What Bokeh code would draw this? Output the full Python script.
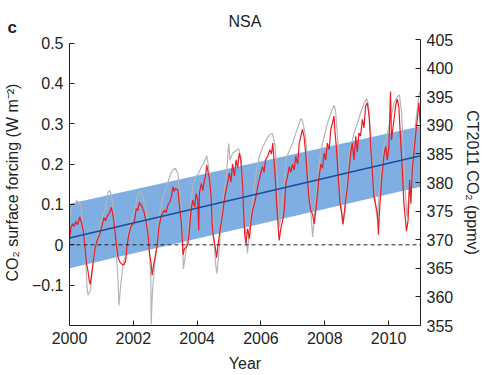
from bokeh.plotting import figure
from bokeh.models import Range1d, LinearAxis, FixedTicker, Span, Title
from bokeh.embed import file_html
from bokeh.resources import INLINE

# ---- data ----
years_ticks = [2000, 2002, 2004, 2006, 2008, 2010]
forcing_ticks = [-0.1, 0.0, 0.1, 0.2, 0.3, 0.4, 0.5]
forcing_tick_labels = ["\u22120.1", "0", "0.1", "0.2", "0.3", "0.4", "0.5"]
co2_ticks = [355, 360, 365, 370, 375, 380, 385, 390, 395, 400, 405]

band_years = [2000.0, 2011.0]
band_lower = [-0.058, 0.144]
band_upper = [0.102, 0.294]
trend_vals = [0.017, 0.221]

red_t = [2000.00, 2000.05, 2000.10, 2000.15, 2000.20, 2000.25, 2000.32, 2000.38, 2000.43, 2000.49,
         2000.53, 2000.58, 2000.62, 2000.65, 2000.69, 2000.74, 2000.79, 2000.86, 2000.95, 2001.03,
         2001.08, 2001.13, 2001.19, 2001.25, 2001.31, 2001.36, 2001.41, 2001.47, 2001.52, 2001.58,
         2001.64, 2001.70, 2001.76, 2001.80, 2001.85, 2001.92, 2001.98, 2002.04, 2002.09, 2002.14,
         2002.19, 2002.28, 2002.35, 2002.41, 2002.46, 2002.51, 2002.56, 2002.59, 2002.64, 2002.70,
         2002.74, 2002.80, 2002.88, 2002.98, 2003.03, 2003.08, 2003.14, 2003.19, 2003.24, 2003.28,
         2003.32, 2003.40, 2003.45, 2003.50, 2003.53, 2003.56, 2003.60, 2003.66, 2003.71, 2003.76,
         2003.81, 2003.86, 2003.92, 2003.97, 2004.02, 2004.05, 2004.07, 2004.13, 2004.18, 2004.23,
         2004.27, 2004.30, 2004.33, 2004.39, 2004.44, 2004.47, 2004.51, 2004.57, 2004.61, 2004.66,
         2004.72, 2004.80, 2004.85, 2004.93, 2005.01, 2005.06, 2005.11, 2005.17, 2005.22, 2005.27,
         2005.32, 2005.37, 2005.43, 2005.46, 2005.49, 2005.53, 2005.58, 2005.64, 2005.69, 2005.74,
         2005.82, 2005.90, 2005.97, 2006.05, 2006.10, 2006.14, 2006.21, 2006.28, 2006.33, 2006.37,
         2006.42, 2006.46, 2006.50, 2006.54, 2006.57, 2006.63, 2006.68, 2006.73, 2006.78, 2006.83,
         2006.89, 2006.94, 2006.99, 2007.04, 2007.09, 2007.15, 2007.20, 2007.25, 2007.30, 2007.35,
         2007.41, 2007.46, 2007.51, 2007.56, 2007.62, 2007.67, 2007.72, 2007.77, 2007.82, 2007.88,
         2007.93, 2007.98, 2008.03, 2008.08, 2008.14, 2008.19, 2008.24, 2008.29, 2008.32, 2008.37,
         2008.43, 2008.48, 2008.53, 2008.57, 2008.64, 2008.71, 2008.76, 2008.81, 2008.86, 2008.92,
         2008.97, 2009.02, 2009.07, 2009.12, 2009.18, 2009.23, 2009.28, 2009.33, 2009.39, 2009.44,
         2009.49, 2009.54, 2009.59, 2009.65, 2009.68, 2009.72, 2009.78, 2009.85, 2009.91, 2009.96,
         2010.01, 2010.06, 2010.09, 2010.17, 2010.22, 2010.27, 2010.32, 2010.37, 2010.43, 2010.48,
         2010.53, 2010.56, 2010.61, 2010.66, 2010.70, 2010.74, 2010.79, 2010.84, 2010.90, 2010.95,
         2010.99]
red_f = [0.015, 0.045, 0.052, 0.046, 0.058, 0.050, 0.069, 0.055, 0.035, -0.010,
         -0.045, -0.065, -0.090, -0.098, -0.075, -0.045, -0.014, 0.011, 0.027, 0.052,
         0.068, 0.060, 0.072, 0.078, 0.093, 0.075, 0.045, 0.000, -0.030, -0.043,
         -0.048, -0.050, -0.040, -0.005, 0.023, 0.045, 0.050, 0.060, 0.090, 0.085,
         0.105, 0.094, 0.078, 0.052, 0.027, -0.023, -0.048, -0.075, -0.048, -0.023,
         -0.006, 0.044, 0.073, 0.086, 0.080, 0.098, 0.105, 0.119, 0.144, 0.132,
         0.140, 0.136, 0.094, 0.060, 0.020, -0.025, -0.010, -0.006, 0.002, 0.040,
         0.086, 0.111, 0.094, 0.127, 0.110, 0.036, 0.127, 0.152, 0.135, 0.161,
         0.175, 0.198, 0.185, 0.161, 0.119, 0.052, 0.019, -0.006, -0.032, 0.003,
         0.036, 0.078, 0.111, 0.144, 0.178, 0.155, 0.200, 0.170, 0.211, 0.190,
         0.227, 0.210, 0.144, 0.078, 0.027, 0.003, 0.040, 0.015, 0.061, 0.086,
         0.110, 0.144, 0.170, 0.194, 0.180, 0.210, 0.219, 0.236, 0.225, 0.252,
         0.200, 0.150, 0.094, 0.044, 0.011, 0.044, 0.060, 0.086, 0.152, 0.169,
         0.194, 0.180, 0.200, 0.185, 0.219, 0.200, 0.252, 0.269, 0.286, 0.269,
         0.219, 0.161, 0.111, 0.086, 0.075, 0.052, 0.086, 0.127, 0.169, 0.200,
         0.190, 0.227, 0.210, 0.252, 0.236, 0.286, 0.302, 0.319, 0.280, 0.236,
         0.161, 0.102, 0.078, 0.052, 0.100, 0.144, 0.186, 0.227, 0.252, 0.210,
         0.269, 0.230, 0.277, 0.270, 0.311, 0.290, 0.344, 0.352, 0.320, 0.244,
         0.186, 0.119, 0.100, 0.078, 0.025, 0.090, 0.161, 0.219, 0.244, 0.210,
         0.244, 0.380, 0.260, 0.311, 0.344, 0.361, 0.344, 0.269, 0.186, 0.102,
         0.061, 0.034, 0.060, 0.161, 0.102, 0.186, 0.227, 0.269, 0.311, 0.352,
         0.300]

grey_t = [2000.00, 2000.06, 2000.12, 2000.17, 2000.22, 2000.27, 2000.33, 2000.38, 2000.43, 2000.48,
          2000.51, 2000.55, 2000.58, 2000.62, 2000.66, 2000.72, 2000.79, 2000.90, 2001.00, 2001.10,
          2001.16, 2001.21, 2001.26, 2001.30, 2001.34, 2001.42, 2001.47, 2001.52, 2001.55, 2001.60,
          2001.68, 2001.78, 2001.83, 2001.94, 2002.04, 2002.12, 2002.20, 2002.30, 2002.39, 2002.46,
          2002.51, 2002.55, 2002.56, 2002.58, 2002.61, 2002.67, 2002.72, 2002.77, 2002.84, 2002.93,
          2003.03, 2003.14, 2003.22, 2003.32, 2003.40, 2003.45, 2003.50, 2003.55, 2003.57, 2003.64,
          2003.71, 2003.78, 2003.86, 2003.95, 2004.05, 2004.13, 2004.23, 2004.30, 2004.36, 2004.44,
          2004.49, 2004.54, 2004.59, 2004.62, 2004.68, 2004.75, 2004.82, 2004.91, 2004.99, 2005.03,
          2005.11, 2005.22, 2005.30, 2005.37, 2005.43, 2005.48, 2005.53, 2005.58, 2005.64, 2005.72,
          2005.79, 2005.86, 2005.95, 2006.05, 2006.16, 2006.26, 2006.36, 2006.44, 2006.50, 2006.54,
          2006.57, 2006.63, 2006.66, 2006.73, 2006.78, 2006.89, 2006.99, 2007.09, 2007.20, 2007.25,
          2007.30, 2007.38, 2007.46, 2007.51, 2007.56, 2007.62, 2007.67, 2007.72, 2007.80, 2007.88,
          2007.98, 2008.08, 2008.19, 2008.29, 2008.34, 2008.40, 2008.47, 2008.53, 2008.57, 2008.64,
          2008.69, 2008.74, 2008.81, 2008.92, 2009.02, 2009.12, 2009.23, 2009.31, 2009.36, 2009.44,
          2009.51, 2009.57, 2009.62, 2009.65, 2009.70, 2009.78, 2009.85, 2009.96, 2010.06, 2010.17,
          2010.27, 2010.34, 2010.41, 2010.48, 2010.53, 2010.58, 2010.63, 2010.72, 2010.79, 2010.86,
          2010.95, 2010.99]
grey_c = [373.4, 375.5, 376.3, 376.0, 376.8, 376.6, 376.2, 375.0, 371.6, 368.5,
          366.4, 361.7, 360.3, 360.8, 361.1, 365.2, 368.7, 371.3, 373.4, 375.1,
          376.5, 378.3, 378.6, 378.0, 376.9, 373.4, 367.6, 362.9, 358.5, 361.7,
          365.8, 367.6, 371.1, 373.4, 375.1, 377.5, 378.6, 377.5, 375.7, 372.2,
          367.6, 362.9, 355.2, 358.5, 361.7, 365.8, 368.1, 371.6, 375.1, 377.5,
          379.2, 381.0, 382.1, 382.5, 381.5, 378.6, 375.1, 368.7, 364.9, 367.6,
          371.1, 375.1, 379.2, 381.0, 381.6, 382.7, 383.6, 384.7, 382.7, 378.6,
          373.4, 368.7, 365.2, 364.1, 367.6, 372.8, 377.5, 381.0, 386.8, 383.9,
          385.1, 385.6, 385.9, 384.5, 380.4, 373.4, 370.5, 367.6, 372.2, 375.7,
          379.2, 382.1, 384.5, 386.2, 387.4, 388.3, 388.6, 386.5, 382.0, 377.0,
          372.2, 374.0, 376.3, 379.8, 383.9, 385.6, 386.8, 388.6, 390.3, 391.2,
          390.8, 388.6, 384.5, 379.8, 375.1, 370.5, 373.5, 377.5, 382.1, 385.6,
          388.0, 390.3, 392.1, 393.5, 392.5, 388.0, 381.0, 375.1, 372.5, 375.1,
          378.0, 383.3, 386.2, 388.6, 390.3, 392.1, 393.8, 394.7, 393.8, 388.6,
          382.1, 377.5, 374.6, 373.5, 377.5, 382.7, 386.2, 388.6, 390.9, 393.8,
          395.0, 395.3, 392.0, 383.9, 377.5, 374.0, 377.5, 382.1, 386.8, 390.9,
          395.3, 396.0]

# ---- styling ----
FONT = "Liberation Sans"
TXT = "#231f20"

# file_html's page has no body margin: the canvas starts at the window's corner
p = figure(width=490, height=375, output_backend="svg", toolbar_location=None,
           x_range=Range1d(2000, 2011), y_range=Range1d(-0.2, 0.509),
           min_border_left=69, min_border_right=70, min_border_top=39, min_border_bottom=50)
p.extra_y_ranges = {"co2": Range1d(355, 405)}
p.outline_line_color = None
p.grid.visible = False
p.background_fill_color = "white"
p.title.text = ""

# titles: "NSA" next to the frame, panel letter "c" pulled down onto the same row
t_nsa = Title(text="NSA", align="center", standoff=19, text_font=FONT,
              text_font_size="16px", text_font_style="normal", text_color=TXT)
t_c = Title(text="\nc", align="left", offset=-62, standoff=-71, text_font=FONT,
            text_font_size="17px", text_font_style="bold", text_color=TXT,
            text_line_height=0.42)
p.add_layout(t_nsa, "above")
p.add_layout(t_c, "above")

p.varea(x=band_years, y1=band_lower, y2=band_upper, fill_color="#7eaee2", fill_alpha=1.0)
p.add_layout(Span(location=0, dimension="width", line_color="#231f20",
                  line_width=1, line_dash="4 3"))
p.line(grey_t, grey_c, y_range_name="co2", line_color="#b5b5b5", line_width=1.2)
p.line(red_t, red_f, line_color="#ec1c24", line_width=1.2)
p.line(band_years, trend_vals, line_color="#1f4c9c", line_width=1.5)

right = LinearAxis(y_range_name="co2", axis_label="CT2011 CO\u2082 (ppmv)")
p.add_layout(right, "right")


def style(ax):
    ax.axis_line_color = TXT
    ax.major_tick_line_color = TXT
    ax.major_tick_in = 5
    ax.major_tick_out = 0
    ax.minor_tick_line_color = None
    ax.major_label_text_font = FONT
    ax.major_label_text_font_size = "16px"
    ax.major_label_text_color = TXT
    ax.axis_label_text_font = FONT
    ax.axis_label_text_font_size = "16px"
    ax.axis_label_text_font_style = "normal"
    ax.axis_label_text_color = TXT
    ax.major_label_standoff = 6


xa = p.xaxis[0]
style(xa)
xa.ticker = FixedTicker(ticks=years_ticks)
xa.axis_label = "Year"
xa.axis_label_standoff = 8

ya = p.yaxis[0]
style(ya)
ya.ticker = FixedTicker(ticks=forcing_ticks)
ya.major_label_overrides = dict(zip(forcing_ticks, forcing_tick_labels))
ya.bounds = (-0.2, 0.5)
ya.axis_label = "CO\u2082 surface forcing (W m\u207b\u00b2)"
ya.axis_label_standoff = 8

style(right)
right.ticker = FixedTicker(ticks=co2_ticks)
right.axis_label_standoff = 8

open("out.html", "w").write(file_html(p, INLINE))
